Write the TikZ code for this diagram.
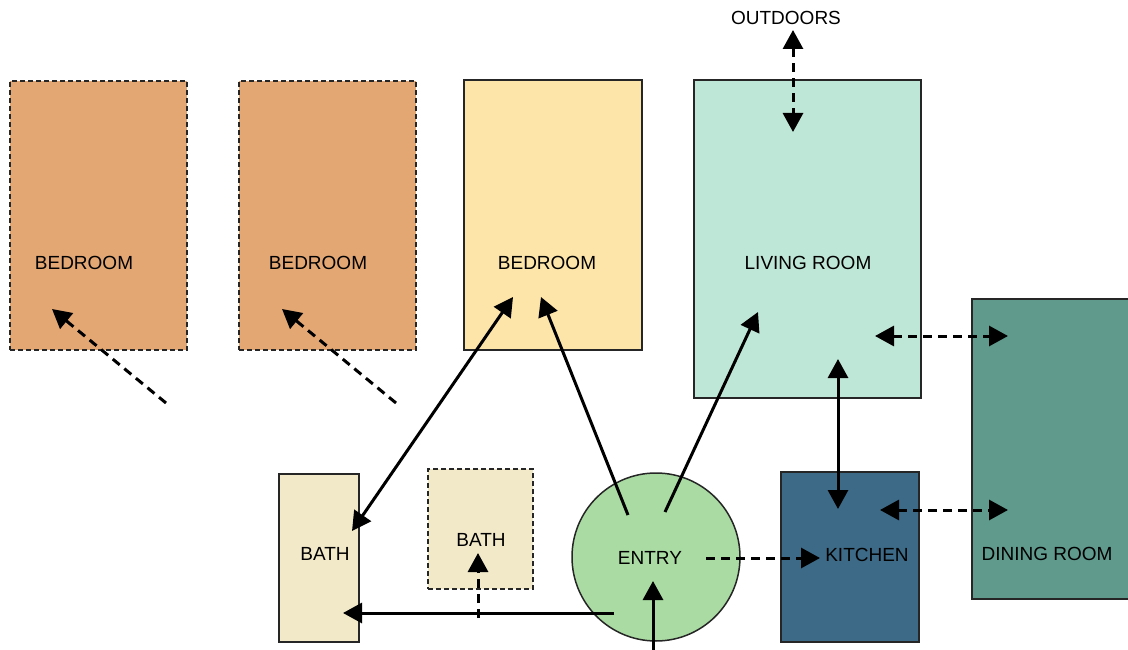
\documentclass[tikz,border=0pt]{standalone}
\usepackage{fontspec}
\setmainfont{Liberation Sans}
\usetikzlibrary{arrows.meta}
\definecolor{bed-tan}{HTML}{E3A774}
\definecolor{bed-yellow}{HTML}{FDE5A9}
\definecolor{living-mint}{HTML}{BFE7D7}
\definecolor{dining-teal}{HTML}{5F9A8D}
\definecolor{kitchen-blue}{HTML}{3D6A87}
\definecolor{bath-cream}{HTML}{F2E9C9}
\definecolor{entry-green}{HTML}{A9DBA2}
\tikzset{
    room/.style = {draw=black!85, line width=1.5pt, rectangle, inner sep=0pt},
    planned-room/.style = {room, dash pattern=on 5pt off 3pt},
    room-name/.style = {font=\fontsize{19}{22}\selectfont, text=black, inner sep=0pt},
    path-solid/.style = {line width=3pt, -{Triangle[length=19pt,width=20pt]}},
    path-both/.style = {line width=3pt, {Triangle[length=19pt,width=20pt]}-{Triangle[length=19pt,width=20pt]}},
    path-dashed/.style = {path-solid, dash pattern=on 9pt off 6pt},
    path-dashed-both/.style = {path-both, dash pattern=on 9pt off 6pt},
}

\begin{document}
\begin{tikzpicture}[x=1pt, y=-1pt]
\useasboundingbox (0,0) rectangle (1128,650);

% rooms
\node [planned-room, fill=bed-tan, minimum width=177pt, minimum height=269pt] (bed1) at (98.5,215.5) {};
\node [planned-room, fill=bed-tan, minimum width=177pt, minimum height=269pt] (bed2) at (327.5,215.5) {};
\node [room, fill=bed-yellow, minimum width=178pt, minimum height=270pt] (bed3) at (553,215) {};
\node [room, fill=living-mint, minimum width=227pt, minimum height=318pt] (living) at (807.5,239) {};
\node [room, fill=dining-teal, minimum width=157pt, minimum height=300pt] (dining) at (1050.5,449) {};
\node [room, fill=kitchen-blue, minimum width=138pt, minimum height=170pt] (kitchen) at (850,557) {};
\node [room, fill=bath-cream, minimum width=80pt, minimum height=168pt] (bath1) at (319,558) {};
\node [planned-room, fill=bath-cream, minimum width=105pt, minimum height=120pt] (bath2) at (480.5,529) {};
\node [draw=black!85, line width=1.5pt, circle, fill=entry-green, minimum size=168pt, inner sep=0pt] (entry) at (656,557) {};

% names
\node [room-name] (bed1-name) at (84,263) {BEDROOM};
\node [room-name] (bed2-name) at (318,263) {BEDROOM};
\node [room-name] (bed3-name) at (547,263) {BEDROOM};
\node [room-name] (living-name) at (808,263) {LIVING ROOM};
\node [room-name] (dining-name) at (1047,554) {DINING ROOM};
\node [room-name] (kitchen-name) at (867,555) {KITCHEN};
\node [room-name] (bath1-name) at (325,554) {BATH};
\node [room-name] (bath2-name) at (481,540) {BATH};
\node [room-name] (entry-name) at (650,558) {ENTRY};
\node [room-name] (outdoors) at (786,18) {OUTDOORS};

% ends of the paths
\coordinate (bed1-out) at (166,403);  \coordinate (bed1-in) at (52,309);
\coordinate (bed2-out) at (396,403);  \coordinate (bed2-in) at (282,309);
\coordinate (bath1-top) at (352,531); \coordinate (bed3-left) at (513,297);
\coordinate (entry-nw) at (628,515);  \coordinate (bed3-right) at (541,297);
\coordinate (entry-ne) at (665,512);  \coordinate (living-sw) at (758,312);
\coordinate (living-s) at (838,359);  \coordinate (kitchen-n) at (838,509);
\coordinate (living-e) at (875,336);  \coordinate (dining-n) at (1008,336);
\coordinate (kitchen-e) at (880,510); \coordinate (dining-s) at (1008,510);
\coordinate (outdoors-s) at (793,30); \coordinate (living-n) at (793,132);
\coordinate (entry-e) at (706,558);   \coordinate (kitchen-w) at (820,558);
\coordinate (entry-w) at (614,613);   \coordinate (bath1-e) at (343,613);
\coordinate (bath2-foot) at (478,618); \coordinate (bath2-in) at (478,553);
\coordinate (front-door) at (653,650); \coordinate (entry-s) at (653,581);

% paths
\draw [path-dashed] (bed1-out) -- (bed1-in);
\draw [path-dashed] (bed2-out) -- (bed2-in);
\draw [path-both] (bath1-top) -- (bed3-left);
\draw [path-solid] (entry-nw) -- (bed3-right);
\draw [path-solid] (entry-ne) -- (living-sw);
\draw [path-both] (living-s) -- (kitchen-n);
\draw [path-dashed-both] (living-e) -- (dining-n);
\draw [path-dashed-both] (kitchen-e) -- (dining-s);
\draw [path-dashed-both] (outdoors-s) -- (living-n);
\draw [path-dashed] (entry-e) -- (kitchen-w);
\draw [path-solid] (entry-w) -- (bath1-e);
\draw [path-dashed] (bath2-foot) -- (bath2-in);
\draw [path-solid] (front-door) -- (entry-s);
\end{tikzpicture}
\end{document}
